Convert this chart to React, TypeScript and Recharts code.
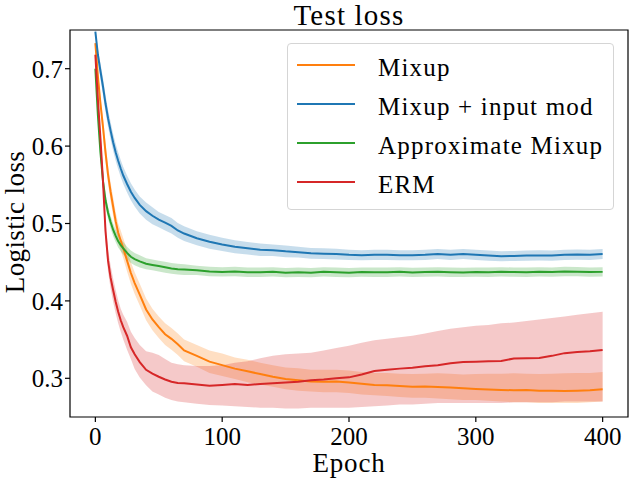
import React from 'react';
import {
  ComposedChart,
  Line,
  Area,
  XAxis,
  YAxis,
  ReferenceArea,
} from 'recharts';

const FONT = '"Liberation Serif", "DejaVu Serif", serif';

const epochs = [
  0, 2, 4, 6, 8, 10, 12, 14, 16, 18, 20, 22, 25, 28, 31, 35, 40, 45, 50, 55, 60, 65, 70,
  80, 90, 100, 110, 120, 130, 140, 150, 160, 170, 180, 190, 200, 210, 220, 230, 240, 250,
  260, 270, 280, 290, 300, 310, 320, 330, 340, 350, 360, 370, 380, 390, 400,
];

// Mixup (orange)
const mixupMean = [
  0.733, 0.69, 0.655, 0.625, 0.592, 0.563, 0.541, 0.522, 0.503, 0.488, 0.478, 0.468,
  0.452, 0.436, 0.423, 0.408, 0.389, 0.376, 0.366, 0.357, 0.351, 0.344, 0.336,
  0.329, 0.3215, 0.317, 0.3125, 0.309, 0.3055, 0.302, 0.299, 0.2975, 0.296, 0.2955, 0.296, 0.2945,
  0.293, 0.2915, 0.291, 0.29, 0.289, 0.2895, 0.2888, 0.288, 0.287, 0.2862,
  0.2855, 0.285, 0.2845, 0.2848, 0.2838, 0.284, 0.2835, 0.284, 0.2845, 0.2858,
];
const mixupLow = [
  0.729, 0.683, 0.646, 0.613, 0.58, 0.551, 0.529, 0.51, 0.491, 0.476, 0.465, 0.455,
  0.438, 0.422, 0.409, 0.394, 0.375, 0.362, 0.352, 0.343, 0.337, 0.33, 0.322,
  0.315, 0.307, 0.303, 0.299, 0.295, 0.292, 0.289, 0.286, 0.284, 0.283, 0.282, 0.282, 0.281,
  0.279, 0.278, 0.277, 0.276, 0.275, 0.275, 0.274, 0.273, 0.272, 0.272,
  0.271, 0.27, 0.269, 0.269, 0.268, 0.268, 0.268, 0.268, 0.269, 0.27,
];
const mixupHigh = [
  0.737, 0.697, 0.664, 0.637, 0.604, 0.575, 0.553, 0.534, 0.515, 0.5, 0.491, 0.481,
  0.466, 0.45, 0.437, 0.422, 0.403, 0.39, 0.38, 0.371, 0.365, 0.358, 0.35,
  0.343, 0.336, 0.332, 0.327, 0.324, 0.32, 0.317, 0.314, 0.313, 0.311, 0.311, 0.311, 0.31,
  0.308, 0.307, 0.307, 0.306, 0.3055, 0.306, 0.3065, 0.306, 0.305, 0.3055,
  0.306, 0.306, 0.3065, 0.306, 0.3055, 0.306, 0.3065, 0.307, 0.307, 0.308,
];

// Mixup + input mod (blue)
const inputModMean = [
  0.748, 0.718, 0.697, 0.677, 0.655, 0.636, 0.62, 0.605, 0.592, 0.581, 0.571, 0.562,
  0.551, 0.541, 0.533, 0.524, 0.516, 0.51, 0.505, 0.501, 0.497, 0.491, 0.487,
  0.481, 0.4765, 0.473, 0.47, 0.468, 0.466, 0.4655, 0.464, 0.463, 0.4615, 0.461, 0.4605, 0.4595,
  0.459, 0.4595, 0.4595, 0.459, 0.459, 0.4595, 0.4605, 0.4595, 0.4605, 0.4595,
  0.4585, 0.4578, 0.458, 0.4585, 0.4588, 0.4585, 0.4595, 0.4598, 0.4595, 0.4605,
];
const inputModSpread = [
  0.004, 0.008, 0.01, 0.011, 0.011, 0.011, 0.011, 0.011, 0.011, 0.011, 0.011, 0.011,
  0.011, 0.011, 0.011, 0.011, 0.011, 0.011, 0.01, 0.01, 0.01, 0.0095, 0.0095,
  0.009, 0.009, 0.0085, 0.0085, 0.008, 0.008, 0.0075, 0.0075, 0.007, 0.007, 0.007, 0.007, 0.0065,
  0.0065, 0.0065, 0.0065, 0.0065, 0.0065, 0.0065, 0.0065, 0.0065, 0.0065, 0.0065,
  0.0065, 0.0065, 0.0065, 0.0065, 0.0065, 0.0065, 0.0065, 0.0065, 0.0065, 0.0065,
];

// Approximate Mixup (green)
const approxMean = [
  0.7, 0.64, 0.592, 0.555, 0.53, 0.514, 0.502, 0.492, 0.484, 0.477, 0.472, 0.468,
  0.462, 0.457, 0.454, 0.451, 0.448, 0.4465, 0.445, 0.4435, 0.442, 0.441, 0.4405,
  0.4395, 0.438, 0.4375, 0.438, 0.437, 0.437, 0.4375, 0.4365, 0.437, 0.4365, 0.4375, 0.437, 0.4365,
  0.4372, 0.437, 0.437, 0.4375, 0.4368, 0.4372, 0.4375, 0.437, 0.4368, 0.4372,
  0.437, 0.4375, 0.4372, 0.437, 0.4375, 0.4372, 0.438, 0.4378, 0.4372, 0.4375,
];
const approxSpread = [
  0.004, 0.007, 0.008, 0.008, 0.008, 0.008, 0.008, 0.008, 0.008, 0.008, 0.008, 0.008,
  0.008, 0.008, 0.008, 0.008, 0.007, 0.007, 0.007, 0.007, 0.007, 0.007, 0.007,
  0.006, 0.006, 0.006, 0.006, 0.006, 0.006, 0.006, 0.006, 0.006, 0.006, 0.006, 0.006, 0.006,
  0.006, 0.006, 0.006, 0.006, 0.006, 0.006, 0.006, 0.006, 0.006, 0.006,
  0.006, 0.006, 0.006, 0.006, 0.006, 0.006, 0.006, 0.006, 0.006, 0.006,
];

// ERM (red)
const ermMean = [
  0.718, 0.66, 0.61, 0.555, 0.49, 0.452, 0.43, 0.414, 0.399, 0.386, 0.375, 0.366,
  0.355, 0.34, 0.331, 0.321, 0.311, 0.306, 0.302, 0.2985, 0.2955, 0.294, 0.2935,
  0.292, 0.2905, 0.2915, 0.2925, 0.2915, 0.2925, 0.2935, 0.2945, 0.2955, 0.2975, 0.2985, 0.3, 0.3012,
  0.305, 0.3095, 0.311, 0.3125, 0.3135, 0.3155, 0.317, 0.3195, 0.3212, 0.3215,
  0.322, 0.3225, 0.3255, 0.326, 0.3262, 0.329, 0.3325, 0.334, 0.335, 0.3366,
];
const ermLow = [
  0.715, 0.652, 0.6, 0.543, 0.476, 0.438, 0.416, 0.399, 0.384, 0.371, 0.36, 0.35,
  0.337, 0.325, 0.312, 0.301, 0.291, 0.283, 0.279, 0.275, 0.272, 0.27, 0.269,
  0.267, 0.2655, 0.265, 0.264, 0.263, 0.262, 0.262, 0.261, 0.261, 0.262, 0.262, 0.262, 0.262,
  0.263, 0.264, 0.265, 0.266, 0.266, 0.267, 0.268, 0.268, 0.268, 0.268,
  0.268, 0.268, 0.269, 0.269, 0.269, 0.269, 0.27, 0.27, 0.27, 0.27,
];
const ermHigh = [
  0.721, 0.668, 0.62, 0.567, 0.504, 0.466, 0.446, 0.429, 0.414, 0.401, 0.39, 0.382,
  0.373, 0.36, 0.352, 0.343, 0.335, 0.333, 0.33, 0.325, 0.32, 0.318, 0.317,
  0.316, 0.316, 0.317, 0.32, 0.322, 0.326, 0.329, 0.331, 0.332, 0.333, 0.336, 0.339, 0.342,
  0.346, 0.349, 0.351, 0.353, 0.355, 0.358, 0.361, 0.364, 0.366, 0.368,
  0.369, 0.371, 0.372, 0.374, 0.376, 0.378, 0.38, 0.382, 0.384, 0.386,
];

const xTicks = [0, 100, 200, 300, 400];
const yTicks = [0.3, 0.4, 0.5, 0.6, 0.7];

const series = [
  { key: 'mixup', name: 'Mixup', color: '#ff7f0e' },
  { key: 'inputMod', name: 'Mixup + input mod', color: '#1f77b4' },
  { key: 'approx', name: 'Approximate Mixup', color: '#2ca02c' },
  { key: 'erm', name: 'ERM', color: '#d62728' },
];

const rows = epochs.map((epoch, i) => ({
  epoch,
  mixup: mixupMean[i],
  mixupBand: [mixupLow[i], mixupHigh[i]],
  inputMod: inputModMean[i],
  inputModBand: [inputModMean[i] - inputModSpread[i], inputModMean[i] + inputModSpread[i]],
  approx: approxMean[i],
  approxBand: [approxMean[i] - approxSpread[i], approxMean[i] + approxSpread[i]],
  erm: ermMean[i],
  ermBand: [ermLow[i], ermHigh[i]],
}));

const tickStyle = { fontSize: 25, fill: '#000', fontFamily: FONT, style: { fontFamily: FONT } };

function LegendBox() {
  return (
    <div
      style={{
        position: 'absolute',
        left: 287,
        top: 43,
        width: 325,
        height: 163,
        border: '1px solid #d5d5d5',
        borderRadius: 4,
        background: 'rgba(255,255,255,0.8)',
        paddingTop: 2,
        boxSizing: 'content-box',
        fontFamily: FONT,
      }}
    >
      {series.map((s) => (
        <div key={s.key} style={{ height: 39, position: 'relative' }}>
          <div
            style={{
              position: 'absolute',
              left: 9,
              top: 18,
              width: 58,
              height: 2,
              background: s.color,
            }}
          />
          <div
            style={{
              position: 'absolute',
              left: 90,
              top: 2,
              lineHeight: '39px',
              fontSize: 25,
              letterSpacing: 1.2,
              whiteSpace: 'nowrap',
              color: '#000',
            }}
          >
            {s.name}
          </div>
        </div>
      ))}
    </div>
  );
}

export default function App() {
  return (
    <div
      style={{
        position: 'absolute',
        left: 0,
        top: 0,
        width: 629,
        height: 480,
        background: '#fff',
        fontFamily: FONT,
      }}
    >
      <ComposedChart
        width={629}
        height={480}
        data={rows}
        margin={{ top: 30, right: 1, left: 0, bottom: 33 }}
        style={{ fontFamily: FONT }}
      >
        <XAxis
          dataKey="epoch"
          type="number"
          domain={[-20, 420]}
          ticks={xTicks}
          allowDataOverflow
          height={30}
          tickSize={5}
          tickMargin={5}
          tick={tickStyle}
          axisLine={false}
          tickLine={{ stroke: '#000', strokeWidth: 1.2 }}
        />
        <YAxis
          type="number"
          domain={[0.25, 0.75]}
          ticks={yTicks}
          allowDataOverflow
          width={70}
          tickSize={5}
          tickMargin={2}
          tick={tickStyle}
          tickFormatter={(v: number) => v.toFixed(1)}
          axisLine={false}
          tickLine={{ stroke: '#000', strokeWidth: 1.2 }}
        />
        {series.map((s) => (
          <Area
            key={s.key + 'Band'}
            dataKey={s.key + 'Band'}
            type="linear"
            stroke="none"
            fill={s.color}
            fillOpacity={0.25}
            isAnimationActive={false}
            activeDot={false}
          />
        ))}
        {series.map((s) => (
          <Line
            key={s.key}
            dataKey={s.key}
            type="linear"
            stroke={s.color}
            strokeWidth={2}
            dot={false}
            activeDot={false}
            isAnimationActive={false}
          />
        ))}
        <ReferenceArea
          x1={-20}
          x2={420}
          y1={0.25}
          y2={0.75}
          fill="none"
          stroke="#000"
          strokeWidth={1.2}
          ifOverflow="visible"
        />
      </ComposedChart>
      <div
        style={{
          position: 'absolute',
          left: 0,
          width: 698,
          top: 1,
          textAlign: 'center',
          fontSize: 29,
          lineHeight: 1,
          letterSpacing: 1.2,
          color: '#000',
        }}
      >
        Test loss
      </div>
      <div
        style={{
          position: 'absolute',
          left: 0,
          width: 698,
          top: 450,
          textAlign: 'center',
          fontSize: 27,
          lineHeight: 1,
          letterSpacing: 0.8,
          color: '#000',
        }}
      >
        Epoch
      </div>
      <div
        style={{
          position: 'absolute',
          left: 15,
          top: 222,
          transform: 'translate(-50%, -50%) rotate(-90deg)',
          fontSize: 27,
          lineHeight: 1,
          letterSpacing: 0.4,
          whiteSpace: 'nowrap',
          color: '#000',
        }}
      >
        Logistic loss
      </div>
      <LegendBox />
    </div>
  );
}
